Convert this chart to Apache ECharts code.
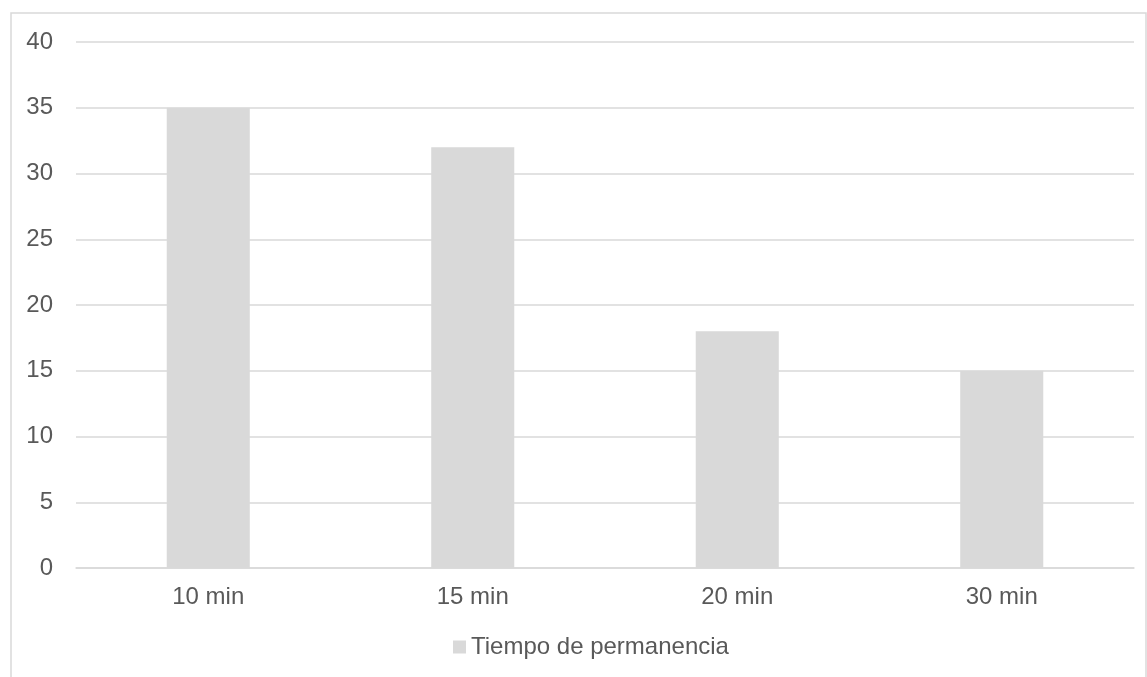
<!DOCTYPE html>
<html><head><meta charset="utf-8">
<script src="https://cdn.jsdelivr.net/npm/echarts@6/dist/echarts.min.js"></script>
<style>html,body{margin:0;padding:0;background:#fff}#c{width:1147px;height:677px}</style>
</head><body><div id="c"></div>
<script>
const categories = ['10 min', '15 min', '20 min', '30 min'];
const values = [35, 32, 18, 15];
const seriesName = 'Tiempo de permanencia';
const yTicks = {min: 0, max: 40, interval: 5};

const FONT = 'Liberation Sans, Arial, sans-serif';
const chart = echarts.init(document.getElementById('c'));
chart.setOption({
  animation: false,
  backgroundColor: '#fff',
  graphic: [{
    type: 'rect', shape: {x: 11, y: 13, width: 1135, height: 680},
    style: {fill: 'none', stroke: '#d9d9d9', lineWidth: 1.5}, silent: true
  }],
  grid: {left: 76, right: 13, top: 42, bottom: 109},
  legend: {
    top: 630, left: 448,
    itemWidth: 13, itemHeight: 13, itemGap: 10,
    icon: 'rect',
    textStyle: {color: '#595959', fontSize: 24, fontFamily: FONT},
    data: [seriesName]
  },
  xAxis: {
    type: 'category', data: categories,
    axisLine: {lineStyle: {color: '#d9d9d9', width: 1.5}},
    axisTick: {show: false},
    axisLabel: {color: '#595959', fontSize: 24, fontFamily: FONT, margin: 17}
  },
  yAxis: {
    type: 'value', min: yTicks.min, max: yTicks.max, interval: yTicks.interval,
    axisLine: {show: false}, axisTick: {show: false},
    splitLine: {lineStyle: {color: '#d9d9d9', width: 1.5}},
    axisLabel: {color: '#595959', fontSize: 24, fontFamily: FONT, margin: 23}
  },
  series: [{
    name: seriesName, type: 'bar', data: values,
    barWidth: '31.4%',
    itemStyle: {color: '#d9d9d9'}
  }]
});
</script></body></html>
